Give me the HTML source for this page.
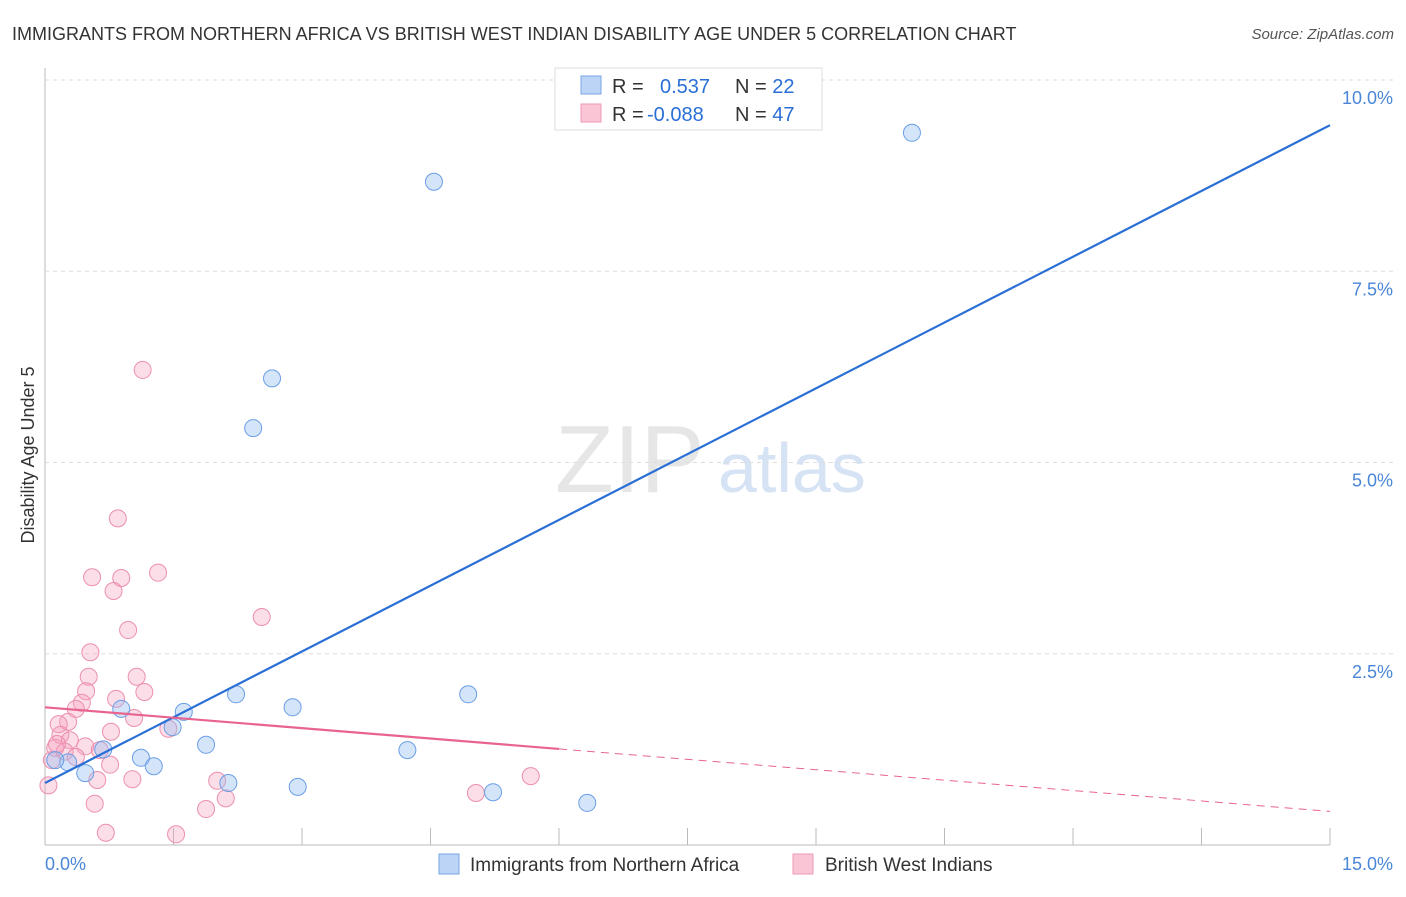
<!DOCTYPE html>
<html><head><meta charset="utf-8"><style>
body{margin:0;background:#fff;font-family:"Liberation Sans",sans-serif;}
svg text{font-family:"Liberation Sans",sans-serif;}
</style></head><body>
<svg id="c" width="1406" height="892">
<text x="12" y="40" font-size="18" fill="#333">IMMIGRANTS FROM NORTHERN AFRICA VS BRITISH WEST INDIAN DISABILITY AGE UNDER 5 CORRELATION CHART</text>
<text x="1394" y="39" font-size="15" fill="#555" font-style="italic" text-anchor="end">Source: ZipAtlas.com</text>
<text x="555" y="492" font-size="96" fill="#e6e6e6" font-family="Liberation Serif">ZIP</text>
<text x="718" y="492" font-size="70" fill="#d6e3f5">atlas</text>
<text transform="translate(34,455) rotate(-90)" font-size="18" fill="#333" text-anchor="middle">Disability Age Under 5</text>
<g id="grid"></g><g id="pts"></g><g id="lines"></g>
<g>
<rect x="555" y="68" width="267" height="62" fill="#fff" stroke="#ddd"/>
<rect x="581" y="76" width="20" height="18" fill="#bcd4f5" stroke="#7aa6e6"/>
<rect x="581" y="104" width="20" height="18" fill="#fac6d6" stroke="#ee99b5"/>
<text x="612" y="93" font-size="20" fill="#333">R = <tspan x="660" fill="#2a6fd6">0.537</tspan><tspan x="735" fill="#333">N = </tspan><tspan fill="#2a6fd6">22</tspan></text>
<text x="612" y="121" font-size="20" fill="#333">R = <tspan x="647" fill="#2a6fd6">-0.088</tspan><tspan x="735" fill="#333">N = </tspan><tspan fill="#2a6fd6">47</tspan></text>
</g>
<g>
<rect x="439" y="854" width="20" height="20" fill="#bcd4f5" stroke="#7aa6e6"/>
<text x="470" y="871" font-size="19" fill="#333">Immigrants from Northern Africa</text>
<rect x="793" y="854" width="20" height="20" fill="#fac6d6" stroke="#ee99b5"/>
<text x="825" y="871" font-size="19" fill="#333">British West Indians</text>
</g>
<text x="45" y="870" font-size="18" fill="#4a86d8">0.0%</text>
<text x="1393" y="870" font-size="18" fill="#4a86d8" text-anchor="end">15.0%</text>
</svg>
<script>
const yTicks=[2.5,5.0,7.5,10.0];
const blueX=[10.12,4.54,2.65,2.43,2.23,2.89,4.94,1.62,0.89,1.49,1.88,0.68,4.23,1.12,1.27,0.27,0.47,2.14,2.95,5.23,6.33,0.12];
const blueY=[9.31,8.67,6.10,5.45,1.97,1.80,1.97,1.74,1.78,1.54,1.31,1.25,1.24,1.14,1.03,1.08,0.94,0.81,0.76,0.69,0.55,1.11];
const pinkX=[1.14,0.85,0.55,0.89,1.32,0.80,2.53,0.97,0.53,0.51,1.07,0.48,1.16,0.83,0.43,0.36,1.04,0.27,0.16,1.44,0.18,0.77,0.29,0.47,0.64,0.12,0.23,0.36,0.76,0.61,1.02,2.01,0.04,2.11,0.58,1.88,5.03,5.67,0.71,1.53,0.14,0.08];
const pinkY=[6.21,4.27,3.50,3.49,3.56,3.32,2.98,2.81,2.52,2.20,2.20,2.01,2.00,1.91,1.86,1.78,1.66,1.61,1.58,1.52,1.44,1.48,1.37,1.29,1.24,1.27,1.22,1.15,1.05,0.85,0.86,0.84,0.78,0.61,0.54,0.47,0.68,0.90,0.16,0.14,1.32,1.11];
const blueFit=[0.81,0.5733];
const pinkFit=[1.80,-0.0907];
const pinkSolidEnd=6.0;
const X=v=>45+v/15*1285, Y=v=>845-v/10*765;
const NS='http://www.w3.org/2000/svg';
function mk(t,a,p){const e=document.createElementNS(NS,t);for(const k in a)e.setAttribute(k,a[k]);p.appendChild(e);return e;}
const g=document.getElementById('grid');
const ax=mk('line',{x1:45,y1:68,x2:45,y2:845,stroke:'#bbb'},g);


const bx=mk('line',{x1:45,y1:845,x2:1330,y2:845,stroke:'#bbb'},g);


yTicks.forEach(t=>{
 const l=mk('line',{x1:45,y1:Y(t),x2:1395,y2:Y(t),stroke:'#ddd','stroke-dasharray':'4,4'},g);
 
 
 const tx=mk('text',{x:1393,y:Y(t)+24,'font-size':18,fill:'#4a86d8','text-anchor':'end'},g);
 tx.textContent=t.toFixed(1)+'%';
 
 
});
for(let i=1;i<=10;i++){
 const l=mk('line',{x1:X(i*1.5),y1:828,x2:X(i*1.5),y2:845,stroke:'#bbb'},g);
 
 
}
const p=document.getElementById('pts');
pinkX.forEach((x,i)=>{
 const c=mk('circle',{cx:X(x),cy:Y(pinkY[i]),r:8.5,fill:'rgba(245,160,190,0.35)',stroke:'#ec8fae','stroke-width':1},p);
 
 
});
blueX.forEach((x,i)=>{
 const c=mk('circle',{cx:X(x),cy:Y(blueY[i]),r:8.5,fill:'rgba(150,190,240,0.4)',stroke:'#6a9ee6','stroke-width':1},p);
 
 
});
const L=document.getElementById('lines');
const b=mk('line',{x1:X(0),y1:Y(blueFit[0]),x2:X(15),y2:Y(blueFit[0]+blueFit[1]*15),stroke:'#2a6fd6','stroke-width':2.2},L);


const ps=mk('line',{x1:X(0),y1:Y(pinkFit[0]),x2:X(pinkSolidEnd),y2:Y(pinkFit[0]+pinkFit[1]*pinkSolidEnd),stroke:'#e8648f','stroke-width':2.2},L);


const pd=mk('line',{x1:X(pinkSolidEnd),y1:Y(pinkFit[0]+pinkFit[1]*pinkSolidEnd),x2:X(15),y2:Y(pinkFit[0]+pinkFit[1]*15),stroke:'#e8648f','stroke-width':1,'stroke-dasharray':'8,6'},L);


</script>
</body></html>
